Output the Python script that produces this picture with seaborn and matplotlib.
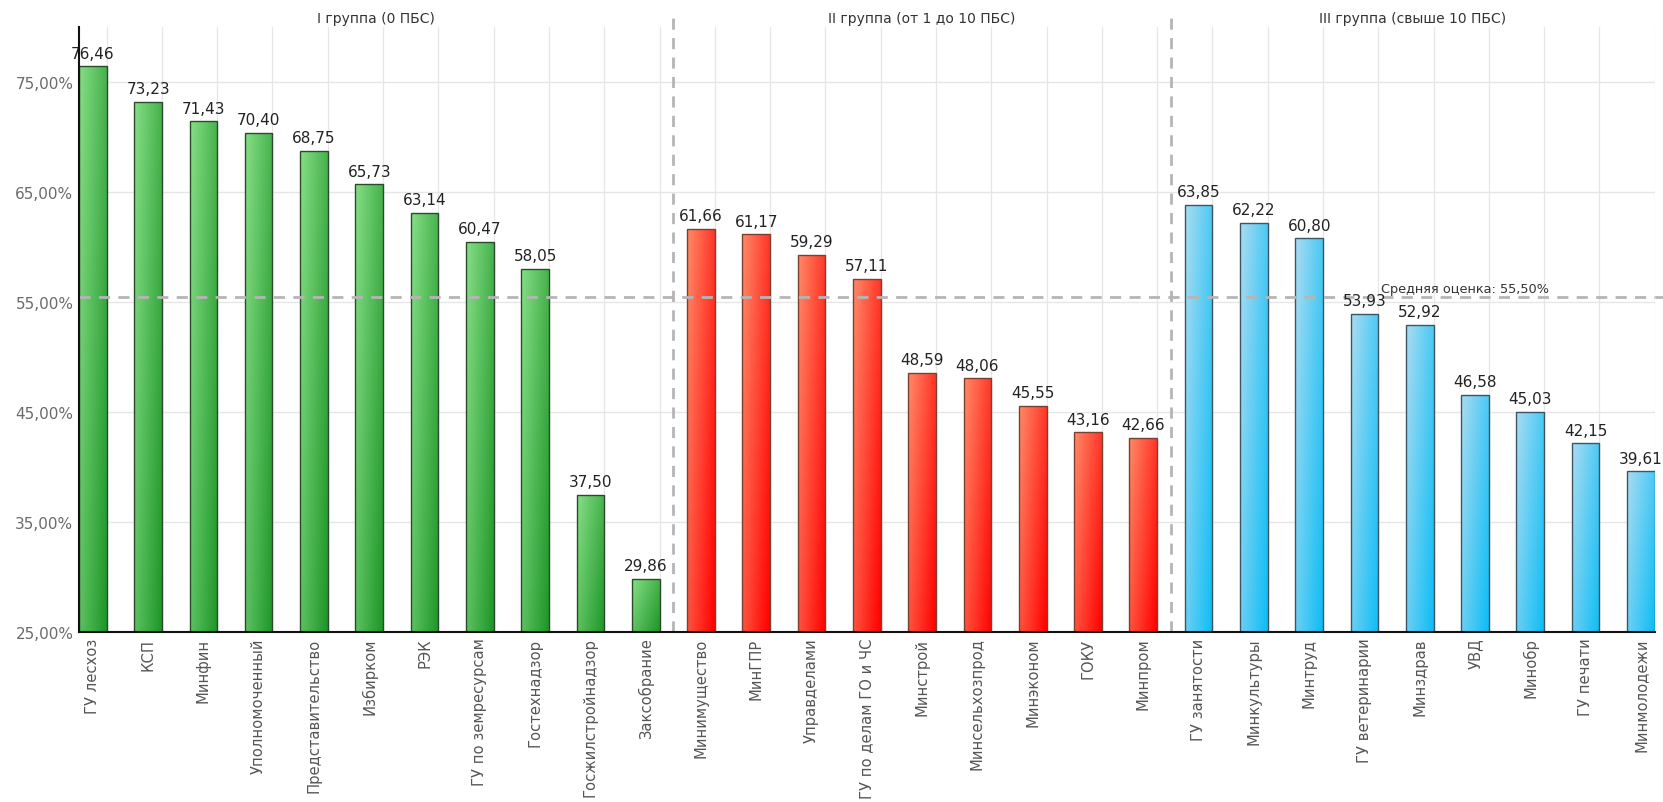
import numpy as np
import pandas as pd
import matplotlib
matplotlib.use("Agg")
import matplotlib.pyplot as plt
import seaborn as sns
from matplotlib.colors import LinearSegmentedColormap
from matplotlib.ticker import FuncFormatter

group1_names = ["ГУ лесхоз", "КСП", "Минфин", "Уполномоченный", "Представительство",
                "Избирком", "РЭК", "ГУ по земресурсам", "Гостехнадзор",
                "Госжилстройнадзор", "Заксобрание"]
group1_values = [76.46, 73.23, 71.43, 70.40, 68.75, 65.73, 63.14, 60.47, 58.05, 37.50, 29.86]

group2_names = ["Минимущество", "МинГПР", "Управделами", "ГУ по делам ГО и ЧС", "Минстрой",
                "Минсельхозпрод", "Минэконом", "ГОКУ", "Минпром"]
group2_values = [61.66, 61.17, 59.29, 57.11, 48.59, 48.06, 45.55, 43.16, 42.66]

group3_names = ["ГУ занятости", "Минкультуры", "Минтруд", "ГУ ветеринарии", "Минздрав",
                "УВД", "Минобр", "ГУ печати", "Минмолодежи"]
group3_values = [63.85, 62.22, 60.80, 53.93, 52.92, 46.58, 45.03, 42.15, 39.61]

group_titles = ["I группа (0 ПБС)", "II группа (от 1 до 10 ПБС)", "III группа (свыше 10 ПБС)"]
mean_value = 55.50
y_ticks = [25, 35, 45, 55, 65, 75]

names = group1_names + group2_names + group3_names
values = group1_values + group2_values + group3_values
groups = ([group_titles[0]] * len(group1_names) + [group_titles[1]] * len(group2_names)
          + [group_titles[2]] * len(group3_names))
df = pd.DataFrame({"name": names, "value": values, "group": groups})

gradients = {
    group_titles[0]: ("#86de86", "#1e9628", "#2b4a2b"),
    group_titles[1]: ("#ff8a68", "#ff0000", "#7a4030"),
    group_titles[2]: ("#aadcf2", "#0dbdf5", "#3d5560"),
}

sns.set_theme(style="white")
plt.rcParams['font.family'] = ['DejaVu Sans']

fig = plt.figure(figsize=(16.63, 8.03), dpi=100)
ax = fig.add_axes([0.0475, 0.2117, 0.9475, 0.7533])

sns.barplot(data=df, x="name", y="value", hue="group", dodge=False, width=0.5,
            palette=[g[1] for g in gradients.values()], legend=False, ax=ax,
            edgecolor="#333333", linewidth=1, zorder=3)

ymin, ymax = 25, 80
xmin, xmax = -0.25, len(names) - 0.75

# gradient fill for each bar (diagonal: light top-left -> dark bottom-right)
gx, gy = np.meshgrid(np.linspace(0, 1, 40), np.linspace(0, 1, 200))
grad = (gx * 0.6 + gy * 0.4)
bars = [p for p in ax.patches if p.get_height() > 0]
for p in bars:
    x0 = p.get_x()
    w = p.get_width()
    h = p.get_height()
    cx = x0 + w / 2
    idx = int(round(cx))
    light, dark, edge = gradients[groups[idx]]
    cmap = LinearSegmentedColormap.from_list("g", [light, dark])
    im = ax.imshow(grad, cmap=cmap, extent=[x0, x0 + w, ymin, h], origin="upper",
                   aspect="auto", zorder=3.5, interpolation="bilinear")
    im.set_clip_path(p)
    p.set_facecolor("none")
    p.set_edgecolor(edge)
    p.set_zorder(4)
    ax.text(cx, h + 0.5, f"{h:.2f}".replace(".", ","), ha="center", va="bottom",
            fontsize=11, color="#222222", zorder=6)

ax.set_xlim(xmin, xmax)
ax.set_ylim(ymin, ymax)

# grid
for yt in y_ticks:
    ax.axhline(yt, color="#e6e6e6", lw=1, zorder=1)
for i in range(len(names)):
    ax.axvline(i + 0.25, color="#e6e6e6", lw=0.9, zorder=1)

# separators
n1, n2 = len(group1_names), len(group2_names)
seps = [n1 - 0.5, n1 + n2 - 0.5]
for s in seps:
    ax.plot([s, s], [ymin, 81.5], ls=(0, (4, 3)), color="#b5b5b5", lw=2, zorder=2, clip_on=False)

# mean line
ax.axhline(mean_value, ls=(0, (4, 3)), color="#b5b5b5", lw=2, zorder=5, clip_on=False)
ax.plot([xmax, xmax + 0.2], [mean_value, mean_value], ls=(0, (4, 3)), color="#b5b5b5",
        lw=2, zorder=5, clip_on=False)
ax.text(n1 + n2 + 3.3, mean_value + 0.1, "Средняя оценка: " + f"{mean_value:.2f}".replace(".", ",") + "%",
        ha="left", va="bottom", fontsize=9.3, color="#333333", zorder=6)

# group titles
bounds = [xmin] + seps + [xmax]
for k, t in enumerate(group_titles):
    ax.text((bounds[k] + bounds[k + 1]) / 2, 80.85, t, ha="center", va="center",
            fontsize=10, color="#333333", clip_on=False)

ax.set_yticks(y_ticks)
ax.yaxis.set_major_formatter(FuncFormatter(lambda v, _: f"{v:.2f}".replace(".", ",") + "%"))
ax.tick_params(axis="y", length=0, labelsize=11, labelcolor="#6b6b6b", pad=4)
ax.tick_params(axis="x", length=0, labelsize=10.6, labelcolor="#555555", pad=4, rotation=90)
ax.set_xlabel("")
ax.set_ylabel("")

for s in ["top", "right"]:
    ax.spines[s].set_visible(False)
for s in ["left", "bottom"]:
    ax.spines[s].set_color("#111111")
    ax.spines[s].set_linewidth(1.5)
    ax.spines[s].set_zorder(7)

fig.savefig("out.png", dpi=100, facecolor="white")
